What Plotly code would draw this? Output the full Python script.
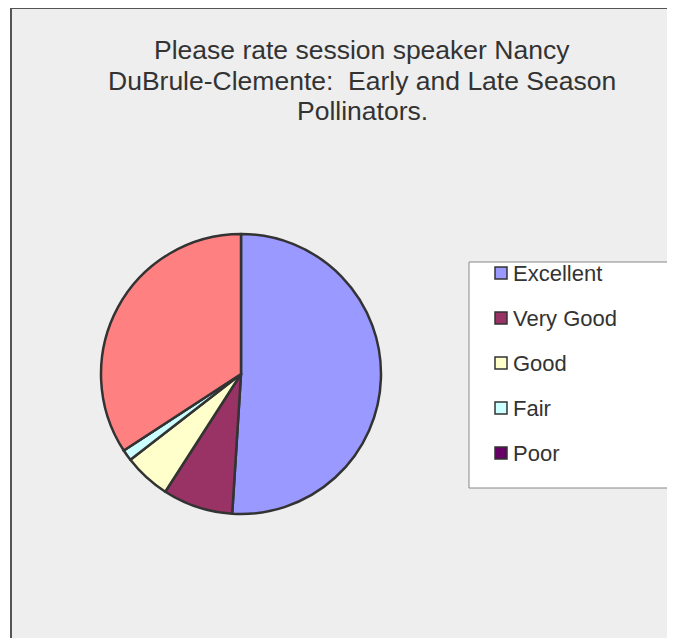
import plotly.graph_objects as go

# survey answers (percent of responses)
labels = ["Excellent", "Very Good", "Good", "Fair", "Poor", ""]
shares = [51.0, 8.1, 5.4, 1.3, 0.0, 34.2]
colors = ["#9999FF", "#993366", "#FFFFCC", "#CCFFFF", "#660066", "#FF8080"]
legend_labels = labels[:5]

title_lines = [
    "Please rate session speaker Nancy",
    "DuBrule-Clemente:  Early and Late Season",
    "Pollinators.",
]

# the page puts the figure 8px in from the top left corner
OFF = 8
W, H = 675 - OFF, 638 - OFF
font = "Liberation Sans, Arial, sans-serif"


def px_x(p):
    return (p - OFF) / W


def px_y(p):
    return 1 - (p - OFF) / H


fig = go.Figure()

fig.add_trace(
    go.Pie(
        labels=labels,
        values=shares,
        sort=False,
        direction="clockwise",
        rotation=0,
        marker=dict(colors=colors, line=dict(color="#333333", width=2.5)),
        textinfo="none",
        hoverinfo="label+percent",
        showlegend=False,
        domain=dict(x=[px_x(101), px_x(381)], y=[px_y(514), px_y(234)]),
    )
)

shapes = [
    # chart area
    dict(type="rect", xref="paper", yref="paper", layer="below",
         x0=px_x(11), x1=1.2, y0=-0.2, y1=px_y(8),
         fillcolor="#EEEEEE", line=dict(color="#555555", width=2)),
    # legend box
    dict(type="rect", xref="paper", yref="paper", layer="below",
         x0=px_x(469), x1=1.2, y0=px_y(488), y1=px_y(262),
         fillcolor="white", line=dict(color="#888888", width=1)),
]

annotations = []
for i, line in enumerate(title_lines):
    annotations.append(
        dict(text=line, xref="paper", yref="paper",
             x=px_x(362), y=px_y(50 + 30.5 * i),
             xanchor="center", yanchor="middle", showarrow=False,
             font=dict(size=26.5, color="#333333", family=font))
    )

# legend (the unnamed last slice is left out, as in the original)
for i, (name, col) in enumerate(zip(legend_labels, colors)):
    yc = 273 + 45 * i
    shapes.append(
        dict(type="rect", xref="paper", yref="paper",
             x0=px_x(495), x1=px_x(507), y0=px_y(yc + 6), y1=px_y(yc - 6),
             fillcolor=col, line=dict(color="#333333", width=1.5))
    )
    annotations.append(
        dict(text=name, xref="paper", yref="paper",
             x=px_x(511), y=px_y(yc), xanchor="left", yanchor="middle",
             showarrow=False,
             font=dict(size=22, color="#333333", family=font))
    )

fig.update_layout(
    width=W,
    height=H,
    margin=dict(l=0, r=0, t=0, b=0),
    paper_bgcolor="white",
    plot_bgcolor="rgba(0,0,0,0)",
    font=dict(family=font, color="#333333"),
    showlegend=False,
    shapes=shapes,
    annotations=annotations,
)

fig.write_html("out.html")
